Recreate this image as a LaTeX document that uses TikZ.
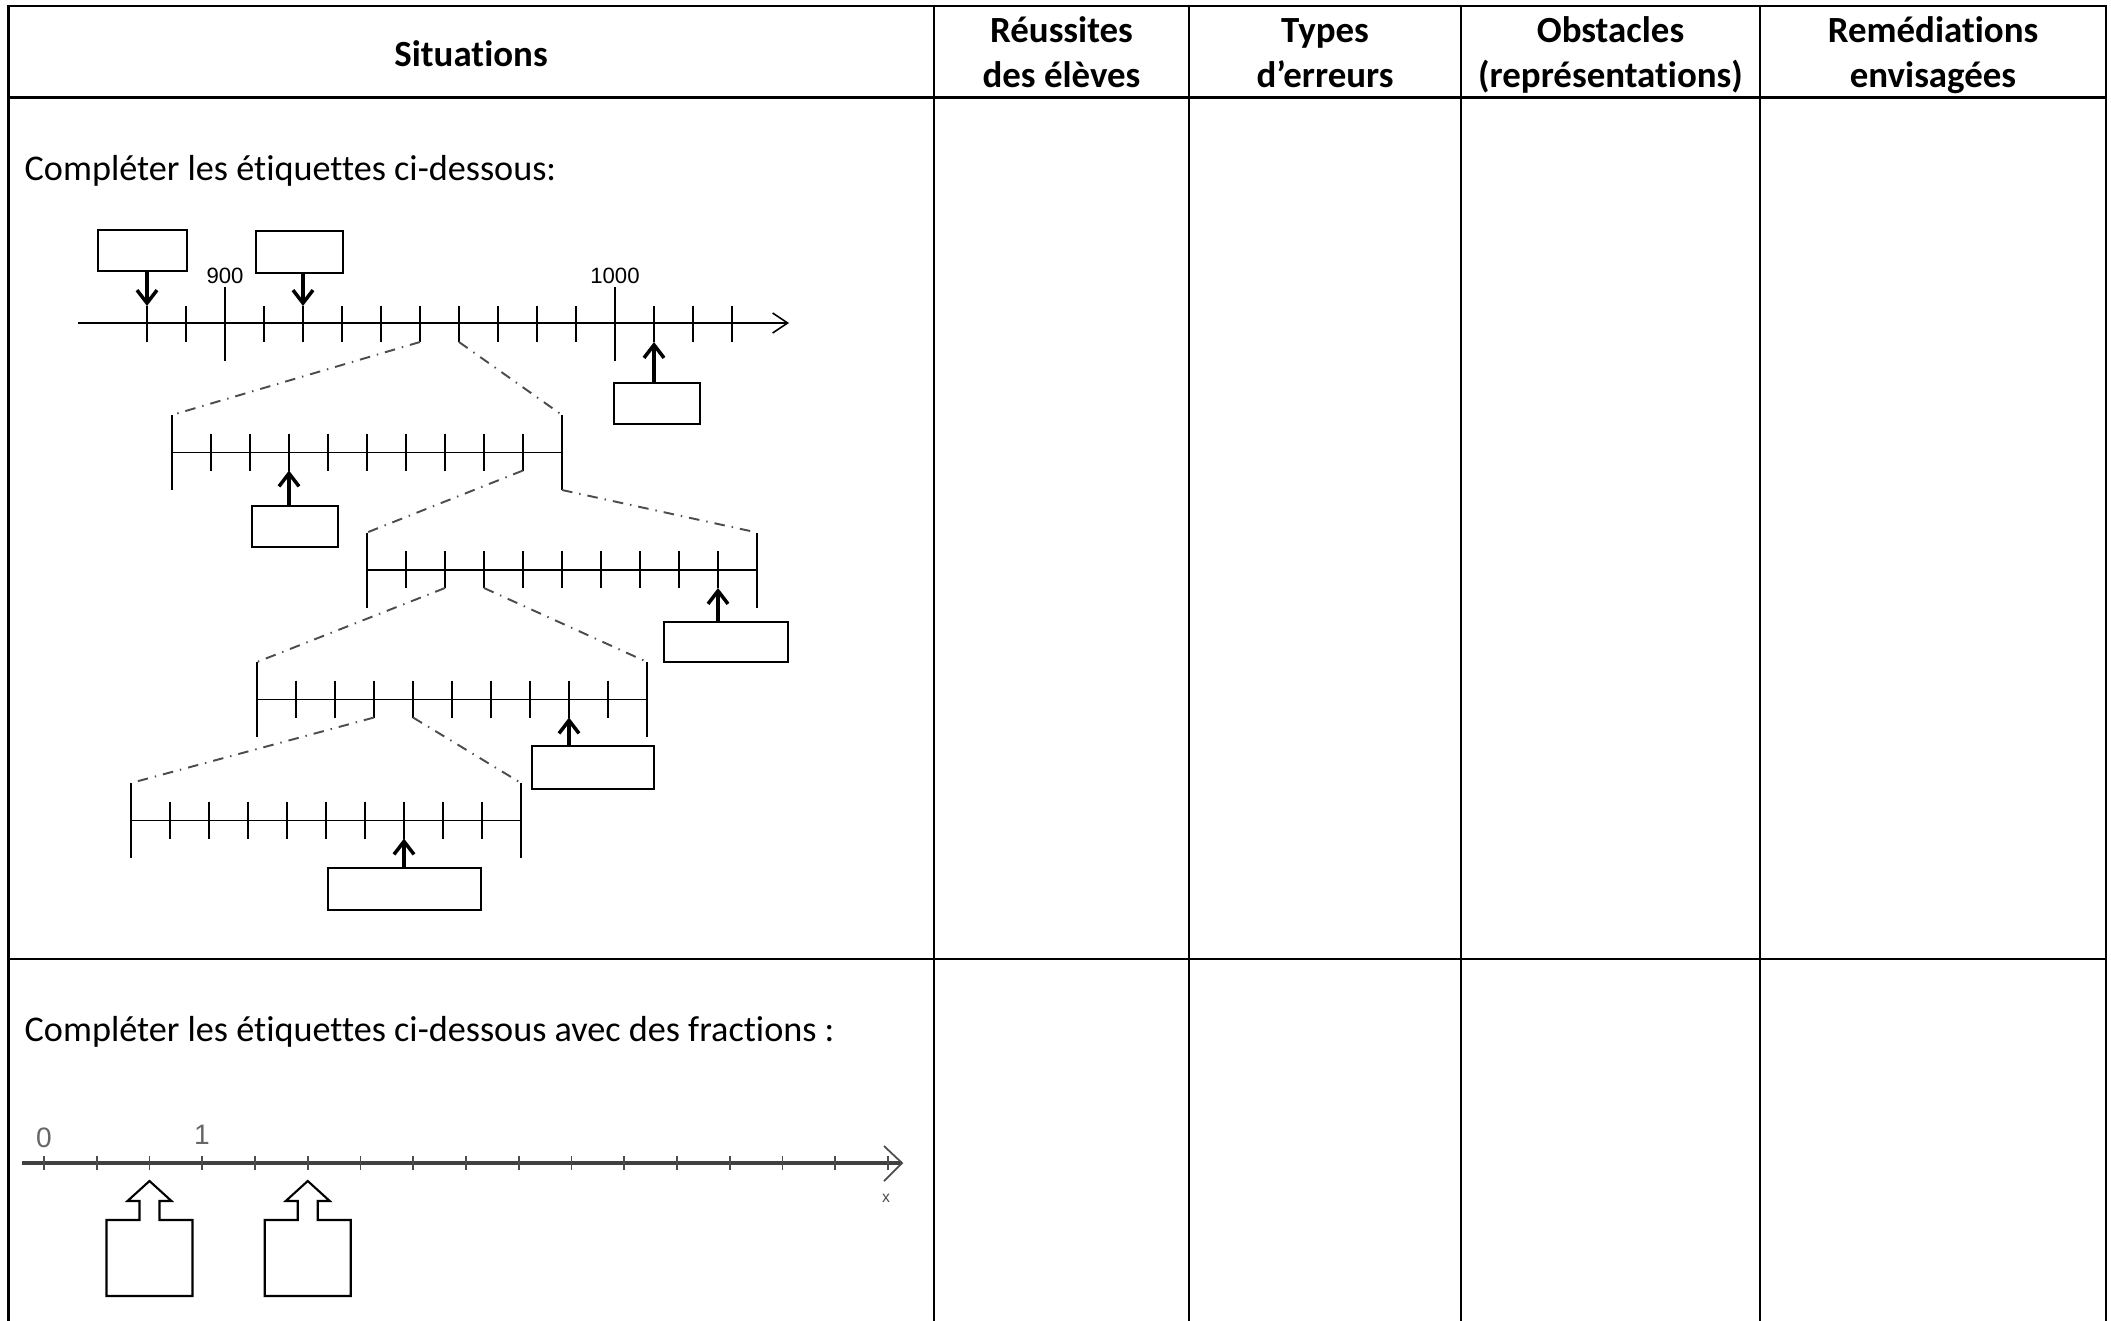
\documentclass[tikz,border=0pt]{standalone}
\usepackage{fontspec}
\setmainfont{Carlito}[Ligatures=NoCommon]
\newfontfamily\numfont{Liberation Sans}
\usetikzlibrary{arrows.meta}

\begin{document}
\begin{tikzpicture}[x=0.1mm,y=-0.1mm]
\tikzset{grid/.style={line width=0.6pt},
  hd/.style={font=\bfseries\fontsize{10.5}{12.8}\selectfont,inner sep=0,anchor=base},
  txt/.style={font=\fontsize{10.3}{12}\selectfont,inner sep=0,anchor=west},
  ax/.style={line width=0.45pt},
  zoomln/.style={black!70,dash dot,line width=0.55pt},
  lbl/.style={draw,line width=0.45pt,inner sep=0},
  pt/.style={-{Straight Barb[length=1.3mm,width=2mm]},line width=1pt},
  num/.style={font=\numfont\fontsize{6.3}{7}\selectfont,inner sep=0}}
\useasboundingbox (0,0) rectangle (2111,1321);
%table
\draw[grid] (8.5,1321)--(8.5,6)--(2106,6)--(2106,1321);
\draw[grid] (8.5,97.5)--(2106,97.5);
\draw[grid] (8.5,959)--(2106,959);
\foreach \xc in {934,1189,1461,1760}
  \draw[grid] (\xc,6)--(\xc,1321);
%headers
\node[hd] (hSit) at (471,67) {Situations};
\node[hd] (hReu) at (1061.5,42.5) {Réussites};
\node[hd] (hReu2) at (1061.5,87.5) {des élèves};
\node[hd] (hTyp) at (1325,42.5) {Types};
\node[hd] (hTyp2) at (1325,87.5) {d’erreurs};
\node[hd] (hObs) at (1610.5,42.5) {Obstacles};
\node[hd] (hObs2) at (1610.5,87.5) {(représentations)};
\node[hd] (hRem) at (1933,42.5) {Remédiations};
\node[hd] (hRem2) at (1933,87.5) {envisagées};
%first row
\node[txt] (q1) at (24,171) {Compléter les étiquettes ci-dessous:};
%main line 880..1030
\draw[ax,-{Straight Barb[length=1.5mm,width=2mm]}] (78,323)--(789,323);
\foreach \i in {0,...,15}
  \draw[ax] (147+39*\i,306)--(147+39*\i,342);
\foreach \i in {2,12}
  \draw[ax] (147+39*\i,287)--(147+39*\i,361);
\node[num] (n900) at (225,276) {900};
\node[num] (n1000) at (615,276) {1000};
\coordinate (pA) at (147,306);
\coordinate (pB) at (303,306);
\coordinate (pC) at (654,342);
\coordinate (m7) at (420,342);
\coordinate (m8) at (459,342);
%zoomed lines
\foreach \xo/\yo [count=\k] in {172/452.5,367/570,257/699.5,131/820.5}{
  \draw[ax] (\xo,\yo)--(\xo+390,\yo);
  \foreach \i in {1,...,9}{
    \draw[ax] (\xo+39*\i,\yo-19)--(\xo+39*\i,\yo+18);
    \coordinate (k\k t\i) at (\xo+39*\i,\yo+18);}
  \draw[ax] (\xo,\yo-37.5)--(\xo,\yo+37.5);
  \draw[ax] (\xo+390,\yo-37.5)--(\xo+390,\yo+37.5);
  \coordinate (a\k) at (\xo,\yo-37.5);
  \coordinate (b\k) at (\xo+390,\yo-37.5);
  \coordinate (c\k) at (\xo+390,\yo+37.5);
}
\draw[zoomln] (m7)--(a1);
\draw[zoomln] (m8)--(b1);
\draw[zoomln] (k1t9)--(a2);
\draw[zoomln] (c1)--(b2);
\draw[zoomln] (k2t2)--(a3);
\draw[zoomln] (k2t3)--(b3);
\draw[zoomln] (k3t3)--(a4);
\draw[zoomln] (k3t4)--(b4);
%labels
\node[lbl,minimum width=8.9mm,minimum height=4.1mm] (boxA) at (142.5,250.5) {};
\node[lbl,minimum width=8.7mm,minimum height=4.2mm] (boxB) at (299.5,252) {};
\node[lbl,minimum width=8.6mm,minimum height=4.1mm] (boxC) at (657,403.5) {};
\node[lbl,minimum width=8.6mm,minimum height=4.1mm] (boxD) at (295,526.5) {};
\node[lbl,minimum width=12.4mm,minimum height=4mm] (boxE) at (726,642) {};
\node[lbl,minimum width=12.2mm,minimum height=4.3mm] (boxF) at (593,767.5) {};
\node[lbl,minimum width=15.3mm,minimum height=4.2mm] (boxG) at (404.5,889) {};
\draw[pt] (boxA.south -| pA)--(pA);
\draw[pt] (boxB.south -| pB)--(pB);
\draw[pt] (boxC.north -| pC)--(pC);
\draw[pt] (boxD.north -| k1t3)--(k1t3);
\draw[pt] (boxE.north -| k2t9)--(k2t9);
\draw[pt] (boxF.north -| k3t8)--(k3t8);
\draw[pt] (boxG.north -| k4t7)--(k4t7);
%second row
\node[txt] (q2) at (24,1032) {Compléter les étiquettes ci-dessous avec des fractions :};
\draw[line width=0.9pt,black!75] (22,1163)--(902,1163);
\draw[line width=0.5pt,black!70] (884,1146)--(902,1163)--(884,1181);
\foreach \i in {0,...,16}
  \draw[line width=0.45pt,black!70] (44+52.75*\i,1156)--(44+52.75*\i,1170);
\node[font=\numfont\fontsize{8}{9}\selectfont,text=black!60,inner sep=0] (z0) at (44,1138) {0};
\node[font=\numfont\fontsize{8}{9}\selectfont,text=black!60,inner sep=0] (u1) at (202,1135) {1};
\node[font=\numfont\fontsize{4.5}{5}\selectfont,text=black!70,inner sep=0] (xl) at (886,1198) {x};
\foreach \c in {149.5,307.75}
  \draw[line width=0.6pt] (\c-43,1296)--(\c-43,1220)--(\c-10,1220)--(\c-10,1201)--(\c-22,1201)--(\c,1181)
    --(\c+22,1201)--(\c+10,1201)--(\c+10,1220)--(\c+43,1220)--(\c+43,1296)--cycle;
\end{tikzpicture}
\end{document}
